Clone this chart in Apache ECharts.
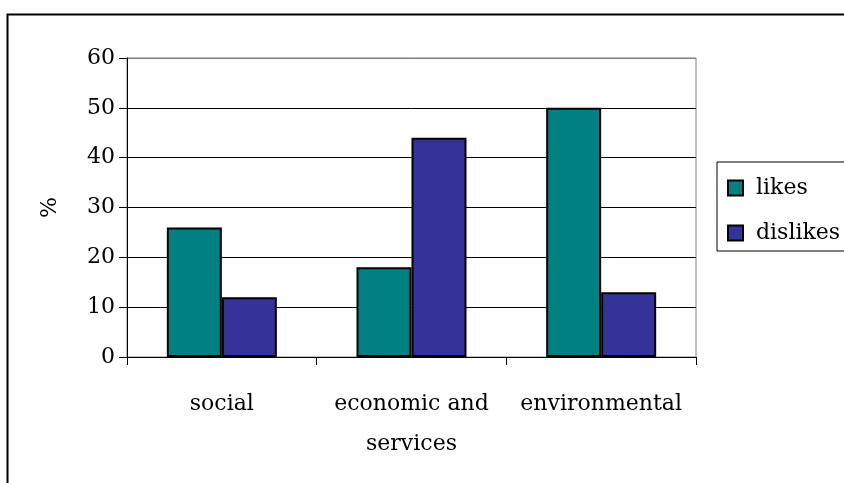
<!DOCTYPE html>
<html>
<head>
<meta charset="utf-8">
<script src="https://cdn.jsdelivr.net/npm/echarts@6/dist/echarts.min.js"></script>
<style>html,body{margin:0;padding:0;background:#fff;}#c{width:844px;height:483px;}</style>
</head>
<body>
<div id="c"></div>
<script>
const categories = ['social', 'economic and services', 'environmental'];
const likes = [26, 18, 50];
const dislikes = [12, 44, 13];
const yTicks = { min: 0, max: 60, interval: 10 };

const FONT = 'DejaVu Serif';
const chart = echarts.init(document.getElementById('c'), null, { renderer: 'canvas' });
chart.setOption({
  backgroundColor: '#fff',
  animation: false,
  graphic: [{
    type: 'rect', left: 5, top: 12, z: -1,
    shape: { x: 0, y: 0, width: 900, height: 600 },
    style: { fill: 'none', stroke: '#000', lineWidth: 2 }
  }],
  grid: { left: 127, right: 148, top: 58, bottom: 126, show: true, borderColor: '#808080', borderWidth: 1, backgroundColor: 'transparent' },
  legend: {
    orient: 'vertical', left: 717, top: 162,
    padding: [13, 10, 5, 10],
    borderColor: '#000', borderWidth: 1,
    itemWidth: 15, itemHeight: 15, itemGap: 19,
    icon: 'rect',
    textStyle: { fontFamily: FONT, fontSize: 22, color: '#000', lineHeight: 26, padding: [0, 0, 0, 8] },
    data: ['likes', 'dislikes']
  },
  xAxis: {
    type: 'category',
    data: categories,
    axisLine: { lineStyle: { color: '#000', width: 1 } },
    axisTick: { show: true, length: 8, lineStyle: { color: '#000' } },
    axisLabel: {
      fontFamily: FONT, fontSize: 22, color: '#000', margin: 27, lineHeight: 40,
      interval: 0,
      formatter: v => v === 'economic and services' ? 'economic and\nservices' : v
    }
  },
  yAxis: {
    type: 'value', min: yTicks.min, max: yTicks.max, interval: yTicks.interval,
    name: '%', nameLocation: 'middle', nameGap: 66, nameRotate: 90,
    nameTextStyle: { fontFamily: FONT, fontSize: 22, color: '#000' },
    axisLine: { show: true, lineStyle: { color: '#000', width: 1 } },
    axisTick: { show: true, length: 8, lineStyle: { color: '#000' } },
    axisLabel: { fontFamily: FONT, fontSize: 22, color: '#000', margin: 12 },
    splitLine: { show: true, lineStyle: { color: ['#000', '#000', '#000', '#000', '#000', '#000', '#808080'], width: 1 } }
  },
  series: [
    { name: 'likes', type: 'bar', data: likes, barGap: '0%', barCategoryGap: '42%',
      itemStyle: { color: '#008080', borderColor: '#000', borderWidth: 2 } },
    { name: 'dislikes', type: 'bar', data: dislikes, barGap: '0%', barCategoryGap: '42%',
      itemStyle: { color: '#333399', borderColor: '#000', borderWidth: 2 } }
  ]
});
</script>
</body>
</html>
